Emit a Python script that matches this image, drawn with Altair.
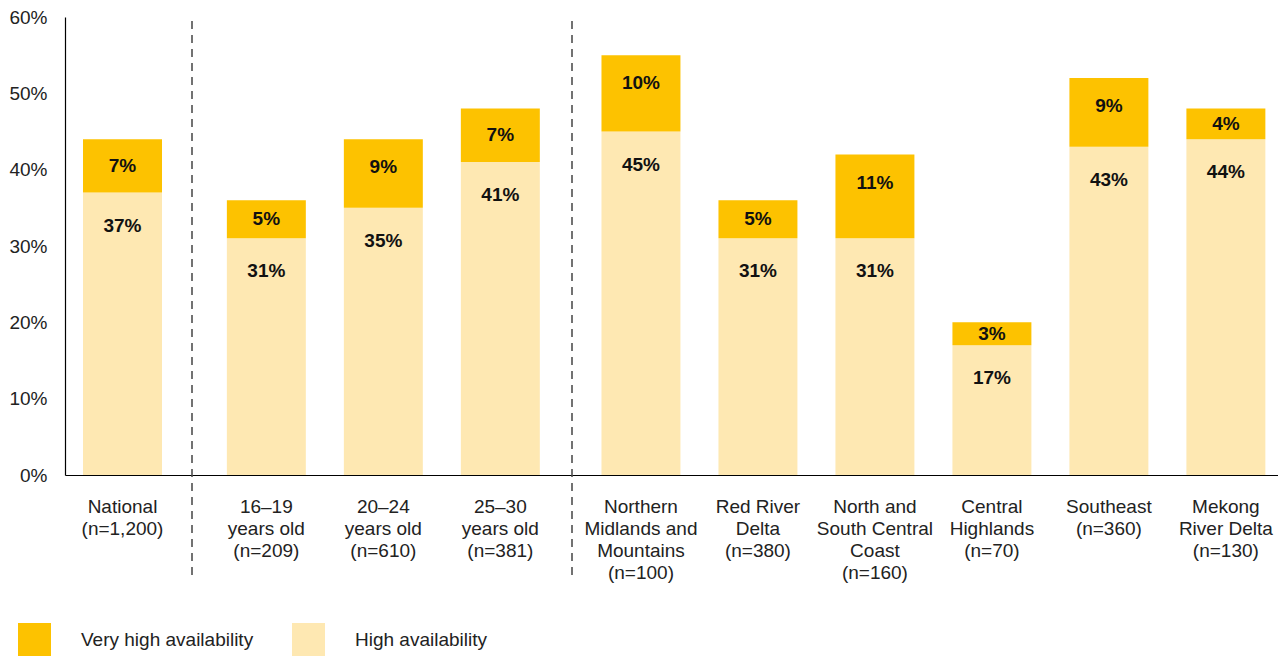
import altair as alt
import pandas as pd

categories = [
    "National|(n=1,200)",
    "16–19|years old|(n=209)",
    "20–24|years old|(n=610)",
    "25–30|years old|(n=381)",
    "Northern|Midlands and|Mountains|(n=100)",
    "Red River|Delta|(n=380)",
    "North and|South Central|Coast|(n=160)",
    "Central|Highlands|(n=70)",
    "Southeast|(n=360)",
    "Mekong|River Delta|(n=130)",
]
groups = ["national", "age", "age", "age",
          "region", "region", "region", "region", "region", "region"]
high = [37, 31, 35, 41, 45, 31, 31, 17, 43, 44]
very_high = [7, 5, 9, 7, 10, 5, 11, 3, 9, 4]
series = ["Very high availability", "High availability"]
colors = ["#FDC200", "#FEE8B2"]

rows = []
for c, g, h, v in zip(categories, groups, high, very_high):
    rows.append({"category": c, "group": g, "series": series[1], "value": h,
                 "order": 0, "lbl": h, "text": f"{h}%"})
    rows.append({"category": c, "group": g, "series": series[0], "value": v,
                 "order": 1, "lbl": h + v - min(v, 7.4) / 2, "text": f"{v}%"})
df = pd.DataFrame(rows)

FONT = "Liberation Sans"
H = 458


def make_panel(key, width, po, align, first, sep):
    d = df[df.group == key]
    cats = [c for c, g in zip(categories, groups) if g == key]
    x = alt.X("category:N", sort=cats,
              scale=alt.Scale(paddingInner=0.325, paddingOuter=po, align=align),
              axis=alt.Axis(title=None, labelAngle=0, labelExpr="split(datum.label, '|')",
                            labelLineHeight=22, labelPadding=22, labelBaseline="top",
                            domainColor="black", domainWidth=1.2, ticks=False))
    yscale = alt.Scale(domain=[0, 60], nice=False)
    if first:
        yaxis = alt.Axis(title=None, values=[0, 10, 20, 30, 40, 50, 60],
                         labelExpr="datum.value + '%'", ticks=False, grid=False,
                         labelPadding=18, domainColor="black", domainWidth=1.2)
    else:
        yaxis = None
    bars = alt.Chart(d).mark_bar().encode(
        x=x,
        y=alt.Y("value:Q", stack="zero", scale=yscale, axis=yaxis),
        color=alt.Color("series:N", scale=alt.Scale(domain=series, range=colors),
                        legend=alt.Legend(title=None, orient="none", legendX=-47, legendY=606,
                                          direction="horizontal", symbolType="square",
                                          symbolSize=1089, symbolStrokeWidth=0,
                                          symbolOpacity=1, labelOffset=30,
                                          columnPadding=38, labelFont=FONT,
                                          labelFontSize=19, labelColor="#222",
                                          labelLimit=400)),
        order=alt.Order("order:Q"),
    )
    vh = alt.Chart(d[d.series == series[0]]).mark_text(
        font=FONT, fontSize=19, fontWeight="bold", color="#111", baseline="middle"
    ).encode(x=alt.X("category:N", sort=cats), y=alt.Y("lbl:Q", scale=yscale), text="text:N")
    hi = alt.Chart(d[d.series == series[1]]).mark_text(
        font=FONT, fontSize=19, fontWeight="bold", color="#111", baseline="middle", dy=33
    ).encode(x=alt.X("category:N", sort=cats), y=alt.Y("lbl:Q", scale=yscale), text="text:N")
    layers = [bars, vh, hi]
    if sep:
        rule = alt.Chart(pd.DataFrame({"k": [0]})).mark_rule(
            strokeDash=[8, 6], color="#444", strokeWidth=1.5
        ).encode(x=alt.value(0), y=alt.value(4), y2=alt.value(H + 106))
        layers.append(rule)
    return alt.layer(*layers).properties(width=width, height=H)


p1 = make_panel("national", 127, 0.205, 0.375, True, False)
p2 = make_panel("age", 380, 0.2865, 0.52, False, True)
p3 = make_panel("region", 706, 0.18, 0.7, False, True)

chart = alt.hconcat(p1, p2, p3, spacing=0, bounds="flush").properties(
    padding={"left": 0, "top": 0, "right": 0, "bottom": 0}
).configure_view(stroke=None).configure_axis(
    labelFont=FONT, labelFontSize=19, labelColor="#222", grid=False
)

chart.save("out.html", embed_options={"renderer": "svg", "actions": False})
